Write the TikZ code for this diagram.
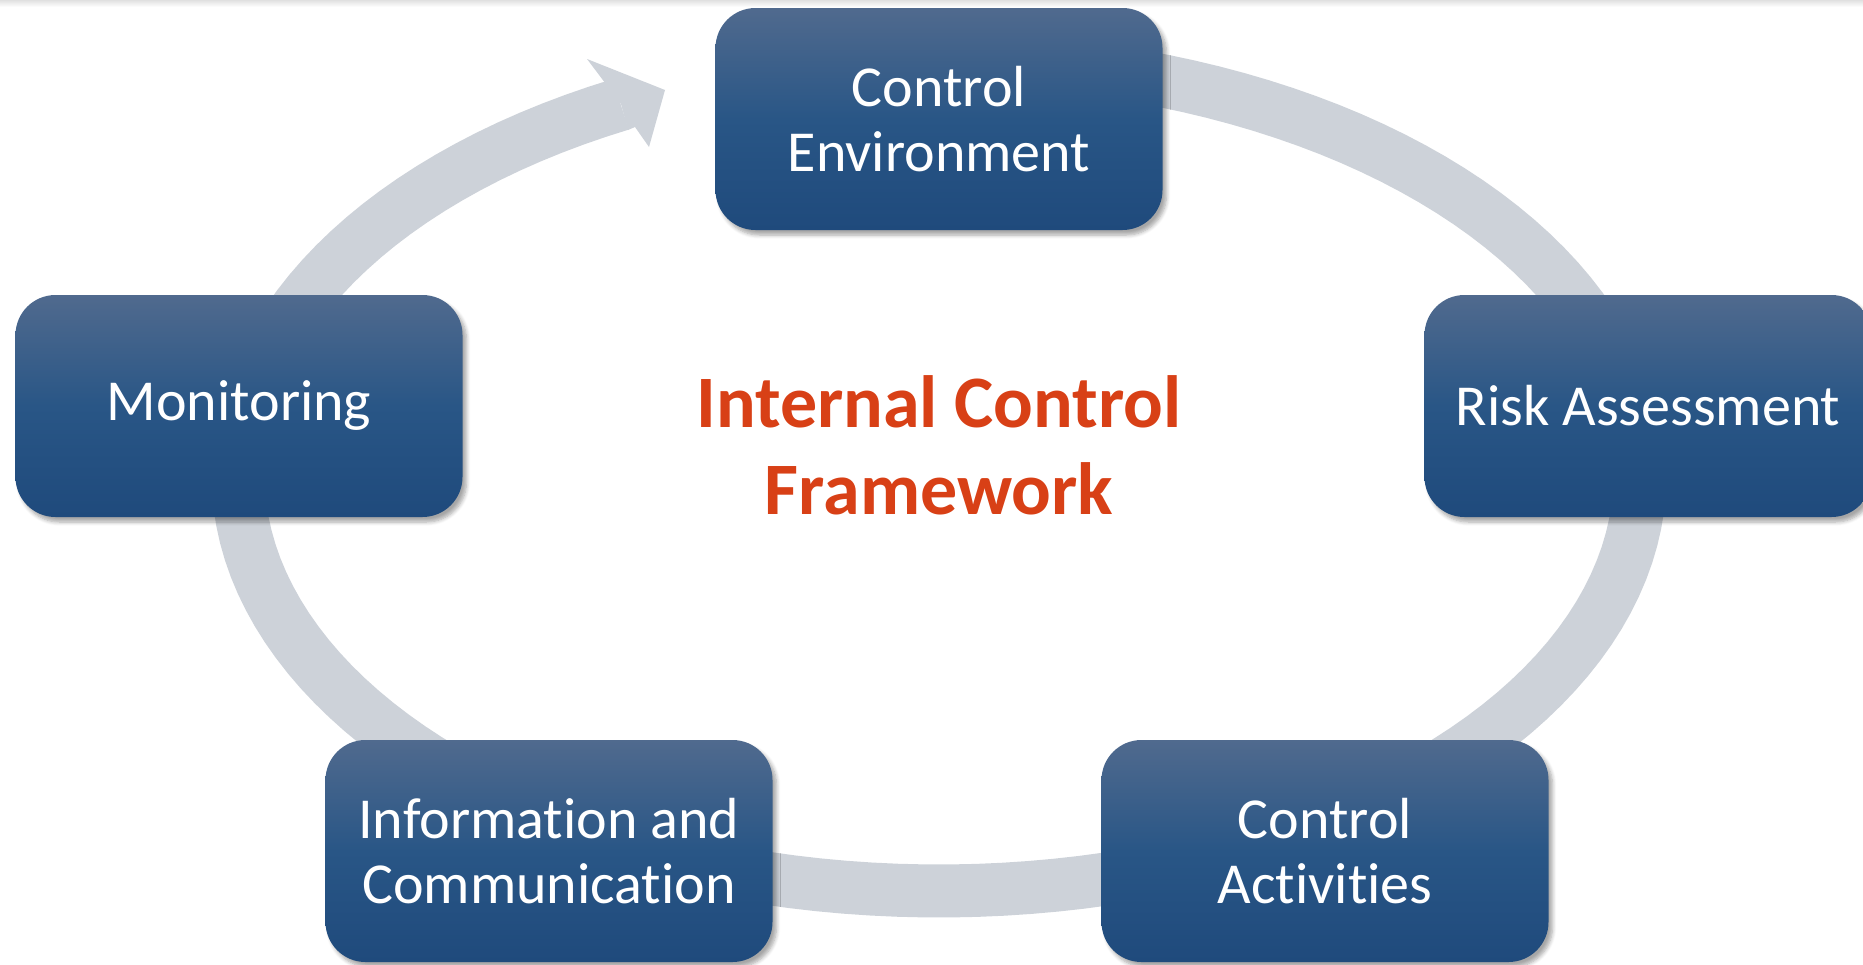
\documentclass[tikz,border=0pt]{standalone}
\usepackage{fontspec}
\setmainfont[Ligatures=NoCommon]{Carlito}
\usetikzlibrary{shadows.blur}
\definecolor{boxtop}{RGB}{80,106,142}
\definecolor{boxmid}{RGB}{41,86,134}
\definecolor{boxbot}{RGB}{31,74,124}
\definecolor{ringgray}{RGB}{205,210,217}
\definecolor{titlered}{RGB}{216,64,22}
\begin{document}
\begin{tikzpicture}[x=0.5pt,y=-0.5pt,
    stage/.style={rounded corners=20pt, minimum width=223.5pt, minimum height=111pt,
      top color=boxtop, bottom color=boxbot, middle color=boxmid,
      text=white, align=center, inner sep=0pt,
      font=\fontsize{29}{32.5}\selectfont,
      blur shadow={shadow xshift=2pt, shadow yshift=-2.5pt, shadow blur steps=6, shadow opacity=35}}]
  \useasboundingbox (0,0) rectangle (1863,964);
  \shade[top color=black!12, bottom color=white] (0,0) rectangle (1863,7);
  \draw[ringgray, line width=26.5pt] plot[domain=-80:243, samples=150]
      ({939+701*cos(\x)},{475+416*sin(\x)});
  \fill[ringgray] (587,59) -- (665,90) -- (649,147) -- (635,127) -- (628,130) -- (621,104) -- cycle;
  \node[stage] (env) at (939,119) {Control\\Environment};
  \node[stage] (risk) at (1648,406) {Risk Assessment};
  \node[stage] (act) at (1325,851) {Control\\Activities};
  \node[stage] (info) at (549,851) {Information and\\Communication};
  \node[stage] (mon) at (239,406) {Monitoring};
  \node[text=titlered, align=center, font=\bfseries\fontsize{37}{43.5}\selectfont] (title) at (939,445)
      {Internal Control\\Framework};
\end{tikzpicture}
\end{document}
